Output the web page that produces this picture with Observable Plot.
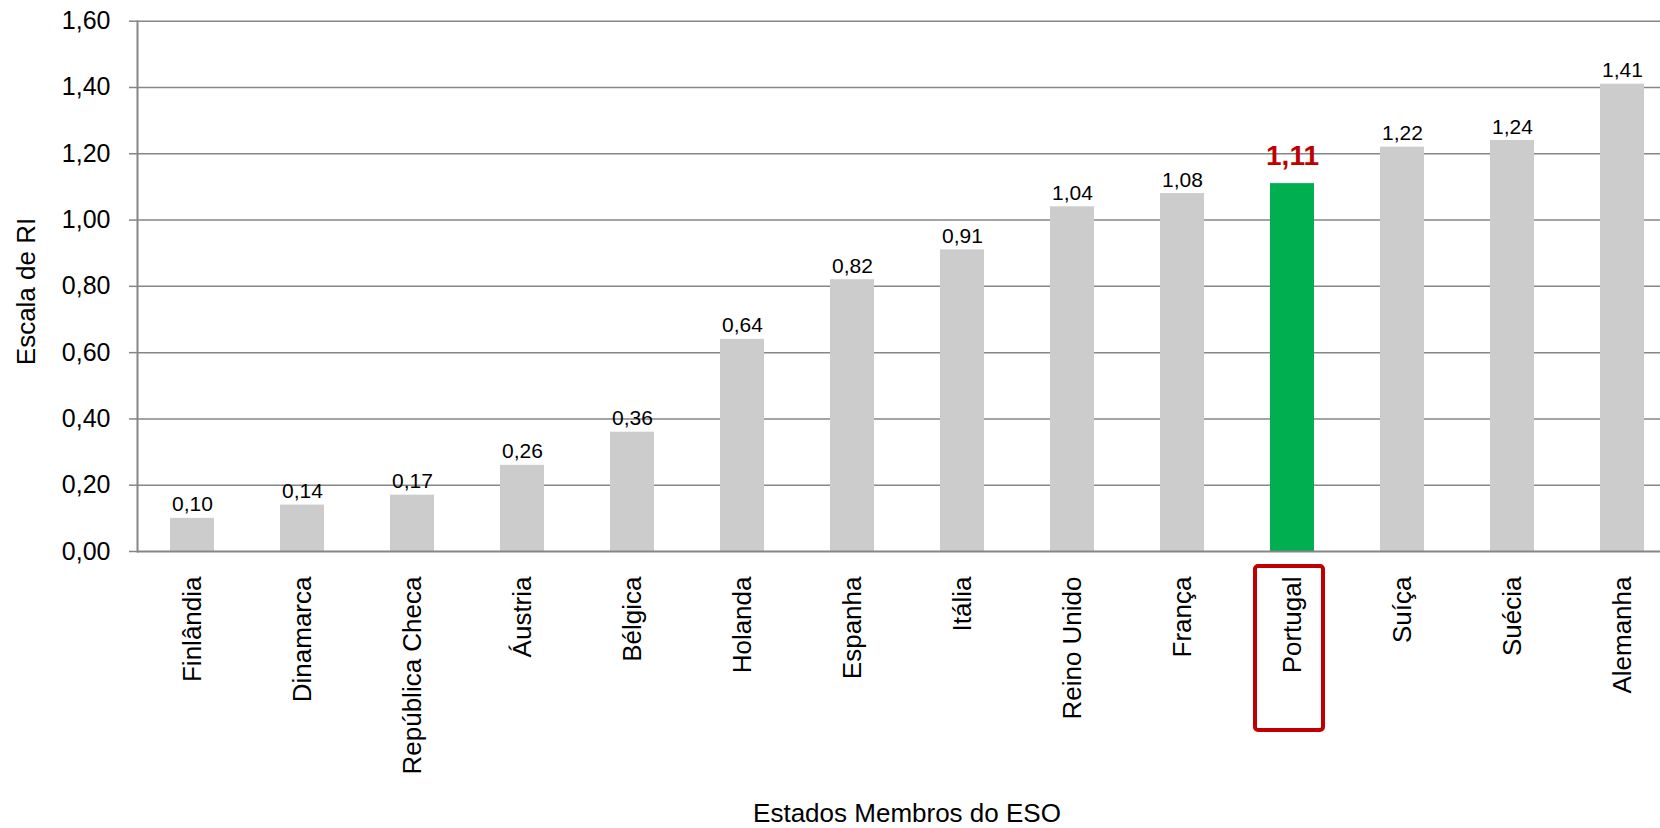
<!DOCTYPE html>
<html>
<head>
<meta charset="utf-8">
<script src="https://cdn.jsdelivr.net/npm/d3@7"></script>
<script src="https://cdn.jsdelivr.net/npm/@observablehq/plot@0.6"></script>
<style>
  html, body { margin: 0; padding: 0; background: #ffffff; overflow: hidden; }
  #chart svg { display: block; }
</style>
</head>
<body>
<div id="chart"></div>
<script>
const countries = ["Finlândia", "Dinamarca", "República Checa", "Áustria", "Bélgica", "Holanda", "Espanha", "Itália", "Reino Unido", "França", "Portugal", "Suíça", "Suécia", "Alemanha"];
const values = [0.10, 0.14, 0.17, 0.26, 0.36, 0.64, 0.82, 0.91, 1.04, 1.08, 1.11, 1.22, 1.24, 1.41];
const yTicks = [0, 0.2, 0.4, 0.6, 0.8, 1.0, 1.2, 1.4, 1.6];
const highlight = "Portugal";
const xTitle = "Estados Membros do ESO";
const yTitle = "Escala de RI";
// extent of the highlight box below the axis, in y-scale units
const boxTop = -0.045;
const boxBottom = -0.54;

const data = countries.map((c, i) => ({country: c, value: values[i]}));
const fmt = v => d3.format(".2f")(v).replace(".", ",");
const gray = "#868686";
const font = "'Liberation Sans', Arial, sans-serif";

const chart = Plot.plot({
  width: 1660,
  height: 828,
  marginLeft: 137,
  marginRight: 0,
  marginTop: 21,
  marginBottom: 277,
  style: {fontFamily: font, background: "#ffffff", color: "#000"},
  x: {domain: countries, range: [137, 1677], paddingInner: 0.6, paddingOuter: 0.3},
  y: {domain: [0, 1.6], range: [551, 20.7]},
  marks: [
    Plot.ruleY(yTicks.filter(d => d > 0), {stroke: gray, strokeWidth: 1.5}),
    Plot.barY(data, {x: "country", y: "value", fill: d => d.country === highlight ? "#00B050" : "#CCCCCC"}),
    Plot.ruleY([0], {stroke: gray, strokeWidth: 2}),
    Plot.frame({anchor: "left", stroke: gray, strokeWidth: 2}),
    Plot.axisY({ticks: yTicks, tickFormat: fmt, tickSize: 8, tickPadding: 19, stroke: gray, strokeWidth: 1.5, fontSize: 25, label: null, fill: "#000"}),
    Plot.axisX({tickSize: 0, tickPadding: 25, tickRotate: -90, fontSize: 26, label: null, fill: "#000"}),
    Plot.text(data.filter(d => d.country !== highlight), {x: "country", y: "value", text: d => fmt(d.value), lineAnchor: "bottom", dy: -7, fontSize: 21, fill: "#000"}),
    Plot.text(data.filter(d => d.country === highlight), {x: "country", y: "value", text: d => fmt(d.value), lineAnchor: "bottom", dy: -19, fontSize: 28, fontWeight: "bold", fill: "#C00000"}),
    Plot.barY([highlight], {x: d => d, y1: boxTop, y2: boxBottom, fill: "none", stroke: "#C00000", strokeWidth: 4, rx: 3, insetLeft: -15, insetRight: -9}),
    Plot.text([xTitle], {frameAnchor: "bottom", text: d => d, dy: 262, dx: 8, lineAnchor: "middle", fontSize: 26, fill: "#000"}),
    Plot.text([yTitle], {frameAnchor: "left", text: d => d, dx: -111, dy: 5, rotate: -90, textAnchor: "middle", lineAnchor: "middle", fontSize: 26, fill: "#000"})
  ]
});
document.getElementById("chart").appendChild(chart);
</script>
</body>
</html>
